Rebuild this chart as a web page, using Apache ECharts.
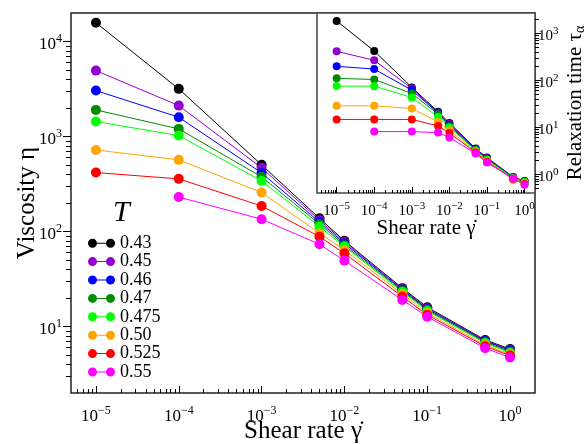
<!DOCTYPE html>
<html>
<head>
<meta charset="utf-8">
<script src="https://cdn.jsdelivr.net/npm/echarts@6/dist/echarts.min.js"></script>
<style>html,body{margin:0;padding:0;background:#fff;}#c{width:586px;height:444px;}</style>
</head>
<body>
<div id="c"></div>
<script>
// ---- data ----
const shearRates = [1e-5, 1e-4, 1e-3, 5e-3, 1e-2, 5e-2, 1e-1, 5e-1, 1];
const temperatures = ['0.43', '0.45', '0.46', '0.47', '0.475', '0.50', '0.525', '0.55'];
const colors = ['#000000', '#9400d3', '#0000ff', '#008b00', '#00ff00', '#ffa500', '#ff0000', '#ff00ff'];

const eta043  = [15800, 3180, 504, 138, 80, 25.4, 16.0, 7.24, 5.82];
const eta045  = [4950, 2120, 469, 132, 77.6, 24.8, 15.6, 7.1, 5.7];
const eta046  = [3050, 1600, 415, 126, 75, 24.4, 15.3, 7.0, 5.6];
const eta047  = [1910, 1205, 377, 120, 72, 23.8, 15.0, 6.85, 5.45];
const eta0475 = [1440, 1025, 342, 113, 69.5, 23.2, 14.6, 6.7, 5.3];
const eta050  = [724, 569, 258, 96, 64, 22, 13.9, 6.4, 5.1];
const eta0525 = [418, 359, 186, 88.5, 59, 20.7, 13.3, 6.2, 4.95];
const eta055  = [null, 231, 135, 73.6, 49.5, 19.1, 12.7, 5.93, 4.72];

const tau043  = [1830, 420, 70.6, 21.5, 12.4, 3.53, 2.27, 0.875, 0.72];
const tau045  = [413, 266, 67, 20.5, 11.8, 3.45, 2.2, 0.86, 0.71];
const tau046  = [198, 173, 61.8, 20, 11.2, 3.4, 2.15, 0.85, 0.70];
const tau047  = [110, 104, 52.5, 19, 10.5, 3.3, 2.1, 0.84, 0.70];
const tau0475 = [75.2, 75, 43, 16.6, 9.9, 3.2, 2.05, 0.83, 0.68];
const tau050  = [28.6, 28.6, 25.1, 13.0, 8.7, 3.0, 1.95, 0.76, 0.65];
const tau0525 = [14.7, 14.7, 14.7, 10.7, 7.6, 2.9, 1.85, 0.80, 0.62];
const tau055  = [null, 8.1, 8.1, 7.7, 6.07, 2.76, 1.78, 0.81, 0.60];

const etaSets = [eta043, eta045, eta046, eta047, eta0475, eta050, eta0525, eta055];
const tauSets = [tau043, tau045, tau046, tau047, tau0475, tau050, tau0525, tau055];

// axis ranges
const mainX = [5e-6, 2];
const mainY = [2, 2e4];
const insetX = [3e-6, 1.9];
const insetY = [0.4, 2700];

// ---- helpers ----
const FONT = 'Liberation Serif';
function pairs(ys) {
  const out = [];
  ys.forEach((y, i) => { if (y != null) out.push([shearRates[i], y]); });
  return out;
}
function powLabel(v) {
  const l = Math.log10(v);
  const e = Math.round(l);
  if (Math.abs(l - e) > 1e-6) return '';
  return '{b|10}{s|' + (e < 0 ? '\u2212' + (-e) : String(e)) + '}';
}
function minorTicks(range) {
  const out = [];
  const lo = Math.floor(Math.log10(range[0])) - 1, hi = Math.ceil(Math.log10(range[1])) + 1;
  for (let n = lo; n <= hi; n++) {
    for (let k = 2; k <= 9; k++) {
      const v = k * Math.pow(10, n);
      if (v > range[0] * 1.0001 && v < range[1] * 0.9999) out.push(Math.log10(v));
    }
  }
  return out;
}
function richBig(size, sup, lh) {
  return {
    b: { fontFamily: FONT, fontSize: size, color: '#000', lineHeight: lh },
    s: { fontFamily: FONT, fontSize: sup, color: '#000', lineHeight: sup, verticalAlign: 'top' }
  };
}
const tickStyle = { color: '#000', width: 1 };

function logAxis(gridIndex, range, opts) {
  return Object.assign({
    type: 'log', gridIndex: gridIndex, min: range[0], max: range[1], logBase: 10,
    axisLine: { show: false, onZero: false },
    splitLine: { show: false },
    nameMoveOverlap: false,
    axisTick: { show: true, inside: opts.inside, length: opts.tickLen, lineStyle: tickStyle },
    axisLabel: { formatter: powLabel, margin: opts.margin, showMinLabel: false, showMaxLabel: false,
                 rich: richBig(opts.font, opts.sup, opts.lh), padding: opts.padding || 0 },
    z: opts.z || 0
  }, opts.extra || {});
}
function minorAxis(gridIndex, range, pos, len, z, inside) {
  return {
    type: 'value', gridIndex: gridIndex, position: pos,
    min: Math.log10(range[0]), max: Math.log10(range[1]),
    axisLine: { show: false, onZero: false }, splitLine: { show: false },
    axisLabel: { show: false },
    axisTick: { show: true, inside: inside, length: len, lineStyle: tickStyle, customValues: minorTicks(range) },
    z: z || 0
  };
}

const series = [];
temperatures.forEach((t, i) => {
  series.push({
    name: t, type: 'line', xAxisIndex: 0, yAxisIndex: 0,
    data: pairs(etaSets[i]), symbol: 'circle', symbolSize: 10,
    color: colors[i], itemStyle: { color: colors[i] },
    lineStyle: { color: colors[i], width: 1 }, z: 2
  });
});
temperatures.forEach((t, i) => {
  series.push({
    name: t, type: 'line', xAxisIndex: 1, yAxisIndex: 1,
    data: pairs(tauSets[i]), symbol: 'circle', symbolSize: 8,
    color: colors[i], itemStyle: { color: colors[i] },
    lineStyle: { color: colors[i], width: 1 }, z: 8
  });
});

const gridBase = { outerBoundsMode: 'none', containLabel: false };
const chart = echarts.init(document.getElementById('c'), null, { renderer: 'canvas' });
chart.setOption({
  animation: false,
  backgroundColor: '#fff',
  title: {
    text: 'T', left: 108, top: 193,
    textStyle: { fontFamily: FONT, fontStyle: 'italic', fontWeight: 'normal', fontSize: 30, color: '#000' }
  },
  legend: {
    data: temperatures, orient: 'vertical', left: 83, top: 229,
    itemWidth: 27, itemHeight: 9, itemGap: 0,
    icon: 'path://M0,4.5A4.5,4.5,0,1,1,9,4.5A4.5,4.5,0,1,1,0,4.5Z M18,4.5A4.5,4.5,0,1,1,27,4.5A4.5,4.5,0,1,1,18,4.5Z M4.5,4 L22.5,4 L22.5,5 L4.5,5 Z',
    textStyle: { fontFamily: FONT, fontSize: 18, color: '#000', lineHeight: 18.4 },
    selectedMode: false
  },
  grid: [
    Object.assign({ left: 71, top: 13, right: 51, bottom: 51, show: true, borderColor: '#222', borderWidth: 1.5, backgroundColor: 'transparent', z: 0 }, gridBase),
    Object.assign({ left: 317, top: 13, width: 218, height: 180, show: true, borderColor: '#444', borderWidth: 1.5, backgroundColor: '#fff', z: 5 }, gridBase),
    Object.assign({ left: 71, top: 13, right: 51, bottom: 51, show: false, z: 1 }, gridBase),
    Object.assign({ left: 317, top: 13, width: 218, height: 180, show: false, z: 6 }, gridBase)
  ],
  xAxis: [
    logAxis(0, mainX, { inside: true, tickLen: 7, margin: 12, font: 17, sup: 12, lh: 23, extra: {
      position: 'bottom', name: 'Shear rate \u03B3\u0307', nameLocation: 'middle', nameGap: 26,
      nameTextStyle: { fontFamily: FONT, fontSize: 25, color: '#000' } } }),
    logAxis(1, insetX, { inside: true, tickLen: 6, margin: 8, font: 15, sup: 11, lh: 20, z: 6, extra: {
      position: 'bottom', name: 'Shear rate \u03B3\u0307', nameLocation: 'middle', nameGap: 25,
      nameTextStyle: { fontFamily: FONT, fontSize: 21, color: '#000' } } }),
    minorAxis(2, mainX, 'bottom', 4, 1, true),
    minorAxis(3, insetX, 'bottom', 3, 6, true)
  ],
  yAxis: [
    logAxis(0, mainY, { inside: false, tickLen: 8, margin: 9, font: 17, sup: 12, lh: 23, padding: [6, 0, 0, 0], extra: {
      position: 'left', name: 'Viscosity \u03B7', nameLocation: 'middle', nameGap: 31,
      nameTextStyle: { fontFamily: FONT, fontSize: 25, color: '#000' } } }),
    logAxis(1, insetY, { inside: false, tickLen: 6, margin: 3, font: 15, sup: 11, lh: 20, padding: [5, 0, 0, 0], z: 6, extra: {
      position: 'right', name: '{a|Relaxation time \u03C4}{u|\u03B1}', nameLocation: 'middle', nameGap: 28,
      nameTextStyle: { fontFamily: FONT, fontSize: 21, color: '#000',
        rich: { a: { fontFamily: FONT, fontSize: 21, color: '#000', lineHeight: 24 },
                u: { fontFamily: FONT, fontSize: 14, color: '#000', lineHeight: 14, verticalAlign: 'bottom' } } } } }),
    minorAxis(2, mainY, 'left', 5, 1, false),
    minorAxis(3, insetY, 'right', 4, 6, false)
  ],
  series: series
});
</script>
</body>
</html>
